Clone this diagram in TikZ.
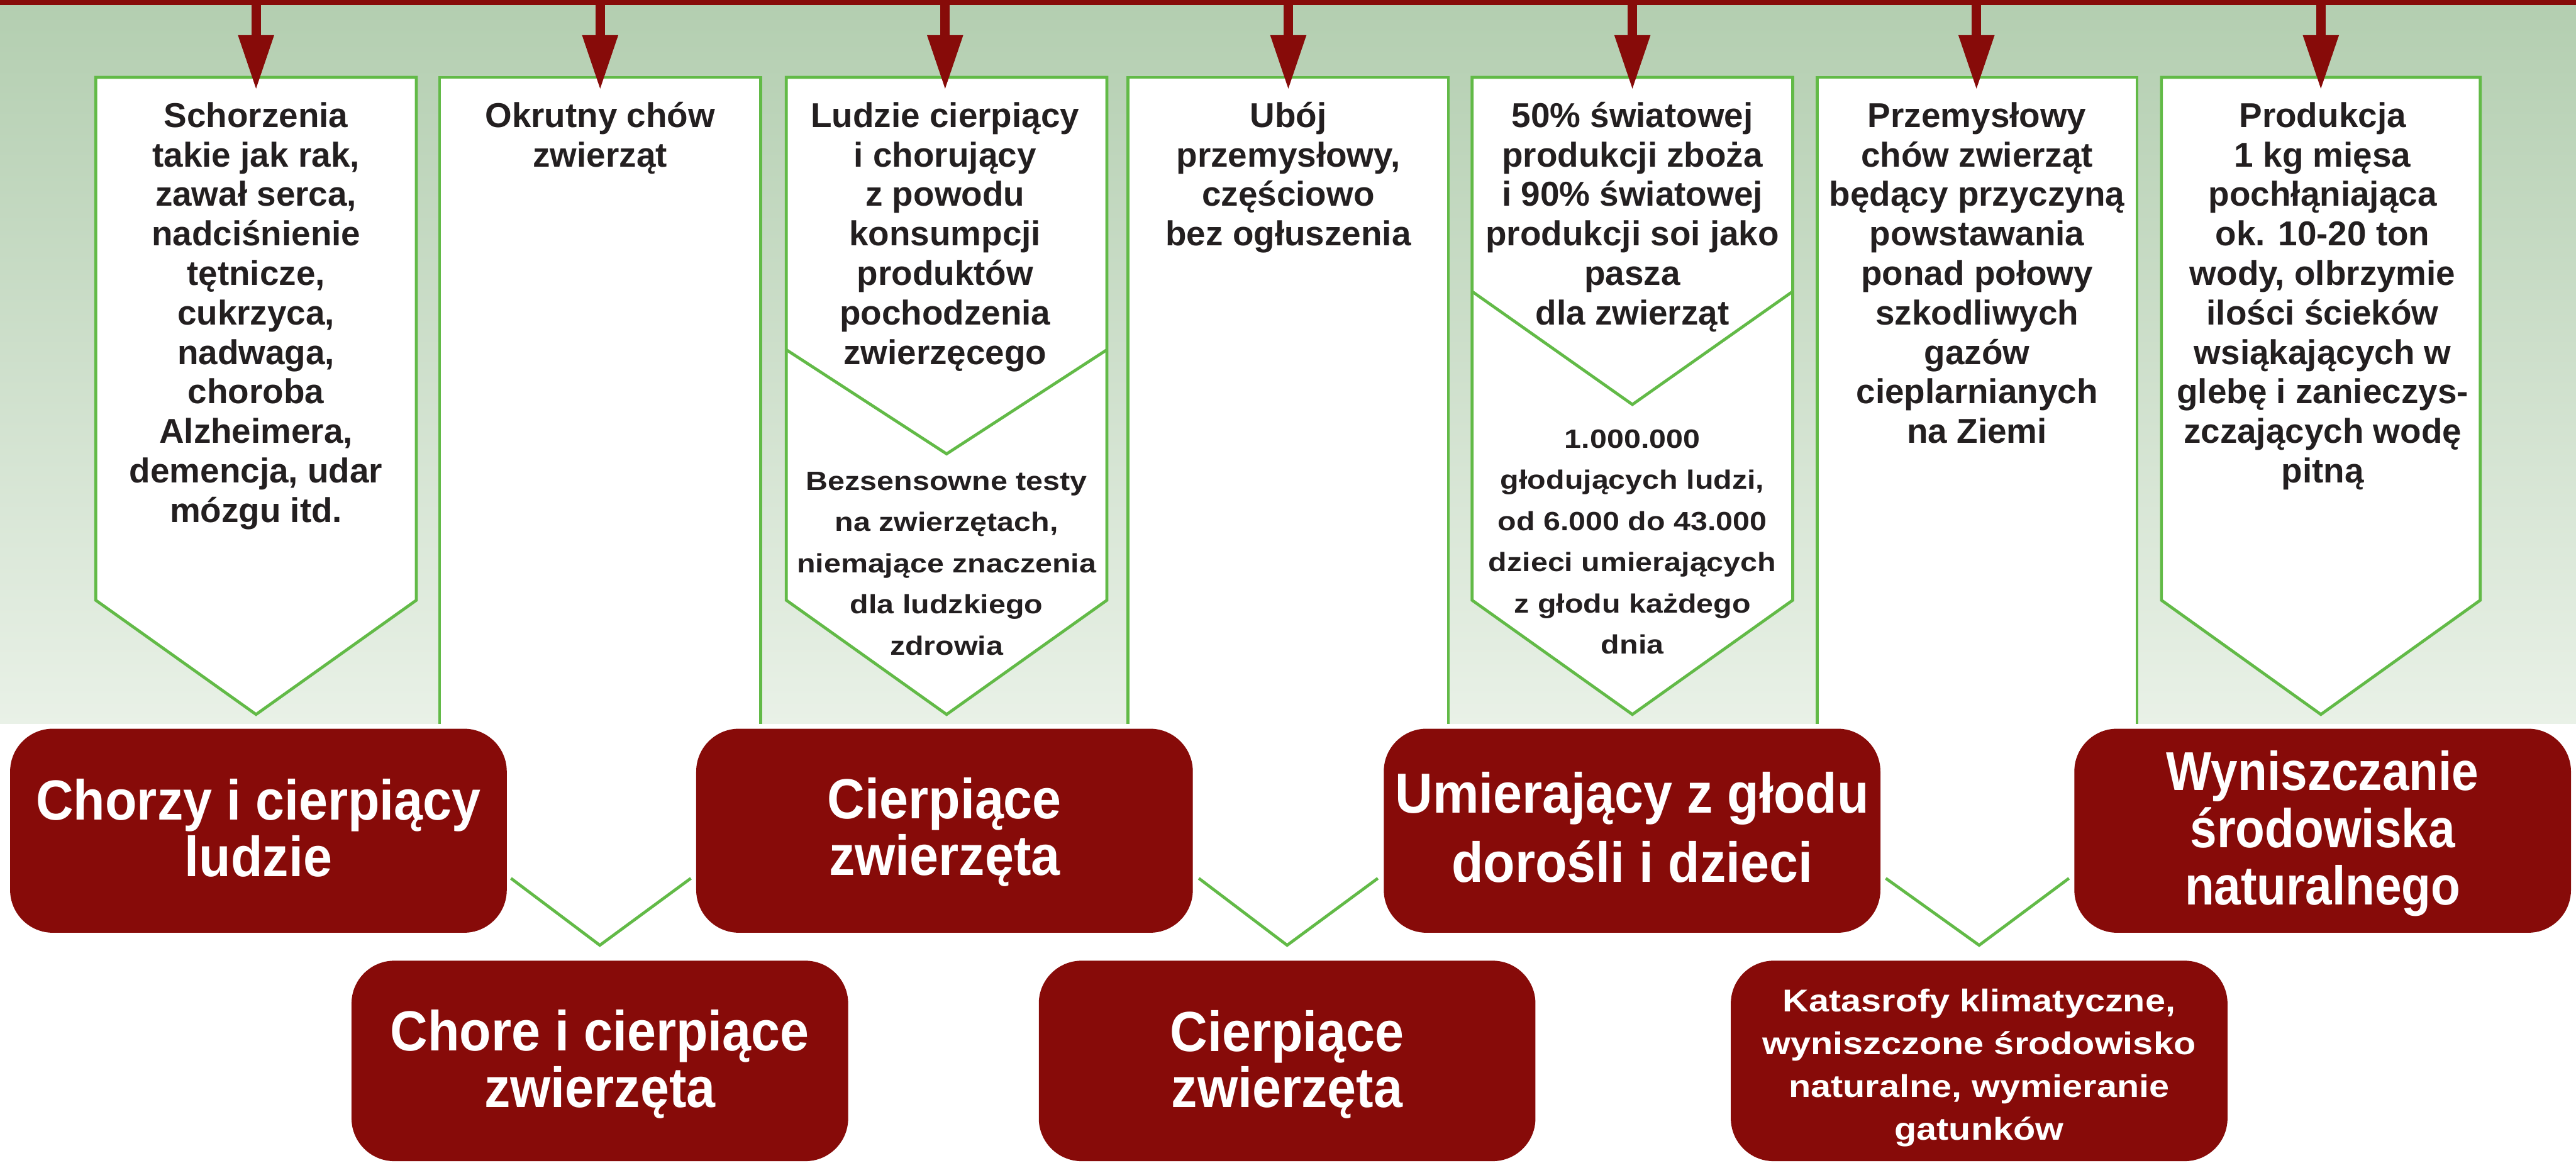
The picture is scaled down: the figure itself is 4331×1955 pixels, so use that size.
\documentclass[tikz,border=0pt]{standalone}
\usepackage{fontspec}
\setmainfont{Liberation Sans}
\newfontfamily\topf{Liberation Sans}
\newfontfamily\widef[FakeStretch=1.15]{Liberation Sans}
\newfontfamily\redf[FakeStretch=0.92]{Liberation Sans}
\newfontfamily\redfD[FakeStretch=0.88]{Liberation Sans}
\usetikzlibrary{calc}
\definecolor{dred}{RGB}{135,11,9}
\definecolor{grn}{RGB}{98,186,71}
\definecolor{txt}{RGB}{35,31,32}
\definecolor{bgtop}{RGB}{179,206,176}
\definecolor{bgbot}{RGB}{233,241,231}
\newcommand\fst[1]{\rule{0pt}{#1}}
\begin{document}
\begin{tikzpicture}[x=0.2pt,y=-0.2pt,
  gbox/.style={fill=white,draw=grn,line width=1pt,line join=miter},
  gedge/.style={draw=grn,line width=1pt,line join=miter},
  vconn/.style={draw=grn,line width=1pt,line join=miter},
  toptxt/.style={anchor=north,align=center,inner sep=0pt,text=txt,
    font=\topf\bfseries\fontsize{11.6pt}{13.28pt}\selectfont},
  lowtxt/.style={anchor=north,align=center,inner sep=0pt,text=txt,
    font=\widef\bfseries\fontsize{8.9pt}{13.85pt}\selectfont},
  redbox/.style={fill=dred,rounded corners=14.4pt,minimum width=167pt,
    inner sep=0pt,outer sep=0pt},
  rowone/.style={redbox,minimum height=68.6pt},
  rowtwo/.style={redbox,minimum height=67.4pt},
  redtxt/.style={anchor=north,align=center,inner sep=0pt,text=white,
    font=\redf\bfseries\fontsize{19pt}{19pt}\selectfont},
  shaft/.style={draw=dred,line width=3.2pt},
  head/.style={fill=dred}]
\useasboundingbox (0,0) rectangle (4331,1955);
\fill[white] (0,0) rectangle (4331,1955);
\shade[top color=bgtop,bottom color=bgbot] (0,0) rectangle (4331,1217);
\fill[dred] (0,0) rectangle (4331,9);

% ---- top white boxes ----
\filldraw[gbox] (161,130) -- (700,130) -- (700,1009) -- (430.5,1201) -- (161,1009) -- cycle;
\fill[white] (739,130) rectangle (1279,1217);
\draw[gedge] (739,1217) -- (739,130) -- (1279,130) -- (1279,1217);
\filldraw[gbox] (1322,130) -- (1861,130) -- (1861,1009) -- (1591.5,1201) -- (1322,1009) -- cycle;
\draw[gedge] (1322,588) -- (1591.5,763) -- (1861,588);
\fill[white] (1896,130) rectangle (2435,1217);
\draw[gedge] (1896,1217) -- (1896,130) -- (2435,130) -- (2435,1217);
\filldraw[gbox] (2475,130) -- (3014,130) -- (3014,1009) -- (2744.5,1201) -- (2475,1009) -- cycle;
\draw[gedge] (2475,490) -- (2744.5,680) -- (3014,490);
\fill[white] (3055,130) rectangle (3593,1217);
\draw[gedge] (3055,1217) -- (3055,130) -- (3593,130) -- (3593,1217);
\filldraw[gbox] (3634,130) -- (4170,130) -- (4170,1009) -- (3902,1201) -- (3634,1009) -- cycle;

% ---- arrows from the top bar ----
\foreach \i/\cx in {1/430.5,2/1009,3/1589,4/2166,5/2744.5,6/3323,7/3902}{
  \coordinate (bar\i) at (\cx,9);
  \coordinate (top\i) at (\cx,130);
  \draw[shaft] (bar\i) -- ($(top\i)+(0,-70)$);
  \fill[head] ($(top\i)+(-30.5,-71)$) -- ($(top\i)+(30.5,-71)$) -- ($(top\i)+(0,19)$) -- cycle;
}

% ---- texts in the white boxes ----
\node[toptxt] (t1) at (430.5,163) {\fst{10pt}Schorzenia\\takie jak rak,\\zawał serca,\\nadciśnienie\\tętnicze,\\cukrzyca,\\nadwaga,\\choroba\\Alzheimera,\\demencja, udar\\mózgu itd.};
\node[toptxt] (t2) at (1009,163) {\fst{10pt}Okrutny chów\\zwierząt};
\node[toptxt] (t3) at (1589,163) {\fst{10pt}Ludzie cierpiący\\i chorujący\\z powodu\\konsumpcji\\produktów\\pochodzenia\\zwierzęcego};
\node[lowtxt] (t3b) at (1591.5,785) {\fst{7.6pt}Bezsensowne testy\\na zwierzętach,\\niemające znaczenia\\dla ludzkiego\\zdrowia};
\node[toptxt] (t4) at (2166,163) {\fst{10pt}Ubój\\przemysłowy,\\częściowo\\bez ogłuszenia};
\node[toptxt] (t5) at (2744.5,163) {\fst{10pt}50\% światowej\\produkcji zboża\\i 90\% światowej\\produkcji soi jako\\pasza\\dla zwierząt};
\node[lowtxt] (t5b) at (2744.5,714) {\fst{7.6pt}1.000.000\\głodujących ludzi,\\od 6.000 do 43.000\\dzieci umierających\\z głodu każdego\\dnia};
\node[toptxt] (t6) at (3324,163) {\fst{10pt}Przemysłowy\\chów zwierząt\\będący przyczyną\\powstawania\\ponad połowy\\szkodliwych\\gazów\\cieplarnianych\\na Ziemi};
\node[toptxt] (t7) at (3905,163) {\fst{10pt}Produkcja\\1 kg mięsa\\pochłąniająca\\ok. 10-20 ton\\wody, olbrzymie\\ilości ścieków\\wsiąkających w\\glebę i zanieczys-\\zczających wodę\\pitną};

% ---- red boxes ----
\node[rowone] (A) at (434.5,1396.5) {};
\node[rowone] (B) at (1588,1396.5) {};
\node[rowone] (C) at (2744,1396.5) {};
\node[rowone] (D) at (3905,1396.5) {};
\node[rowtwo] (E) at (1008.5,1783.5) {};
\node[rowtwo] (F) at (2164,1783.5) {};
\node[rowtwo] (G) at (3327.5,1783.5) {};

\node[redtxt] (At) at ($(A.north)+(0,72)$) {\fst{16pt}Chorzy i cierpiący\\ludzie};
\node[redtxt] (Bt) at ($(B.north)+(0,70)$) {\fst{16pt}Cierpiące\\zwierzęta};
\node[redtxt,font=\redf\bfseries\fontsize{19pt}{23.2pt}\selectfont] (Ct) at ($(C.north)+(0,61)$) {\fst{16pt}Umierający z głodu\\dorośli i dzieci};
\node[redtxt,font=\redfD\bfseries\fontsize{18.4pt}{19.2pt}\selectfont] (Dt) at ($(D.north)+(0,23)$) {\fst{16pt}Wyniszczanie\\środowiska\\naturalnego};
\node[redtxt] (Et) at ($(E.north)+(0,70)$) {\fst{16pt}Chore i cierpiące\\zwierzęta};
\node[redtxt] (Ft) at ($(F.north)+(0,71)$) {\fst{16pt}Cierpiące\\zwierzęta};
\node[redtxt,font=\widef\bfseries\fontsize{10.6pt}{14.34pt}\selectfont] (Gt) at ($(G.north)+(0,40)$) {\fst{9pt}Katasrofy klimatyczne,\\wyniszczone środowisko\\naturalne, wymieranie\\gatunków};

% ---- V connectors between red boxes ----
\draw[vconn] ($(A.east)+(7,80)$) -- ($(E.north)+(0,-26)$) -- ($(B.west)+(-9,80)$);
\draw[vconn] ($(B.east)+(10,80)$) -- ($(F.north)+(0,-26)$) -- ($(C.west)+(-10,80)$);
\draw[vconn] ($(C.east)+(9,80)$) -- ($(G.north)+(0,-26)$) -- ($(D.west)+(-9,80)$);
\end{tikzpicture}
\end{document}
